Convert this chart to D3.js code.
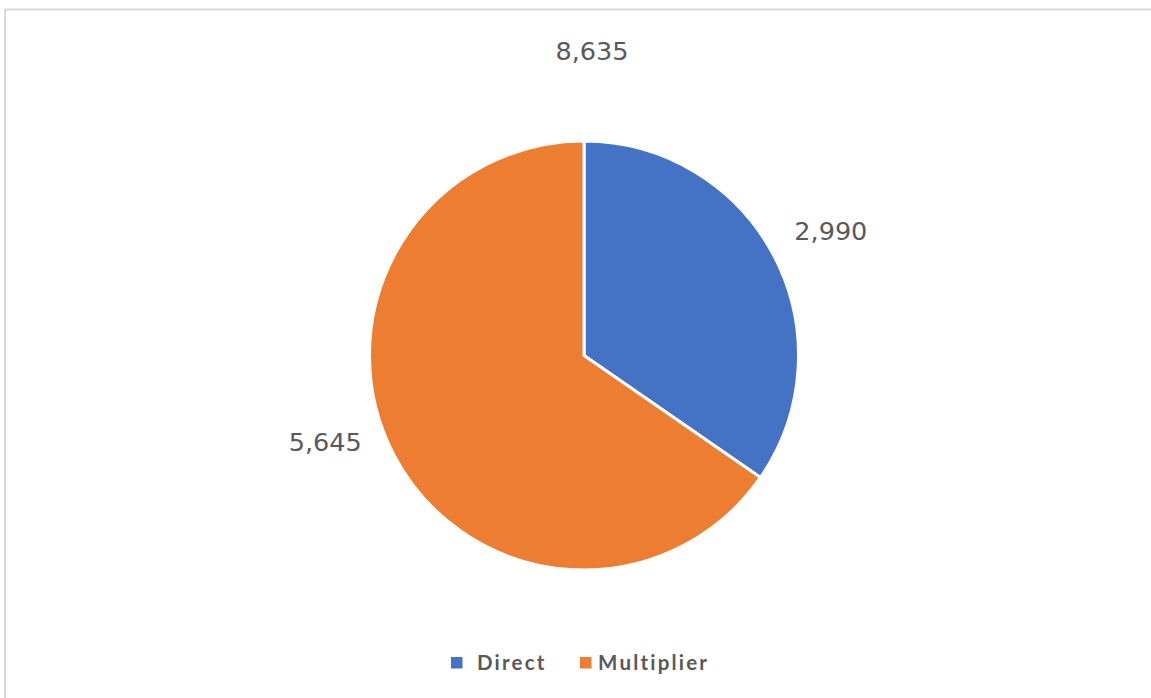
<!DOCTYPE html>
<html>
<head>
<meta charset="utf-8">
<script src="https://cdn.jsdelivr.net/npm/d3@7"></script>
<style>
  html, body { margin: 0; padding: 0; background: #fff; }
  svg { display: block; }
</style>
</head>
<body>
<svg id="chart" width="1151" height="698"></svg>
<script>
// Jobs split between direct and multiplier effects
const categories = ["Direct", "Multiplier"];
const values = [2990, 5645];
const colors = ["#4472C4", "#ED7D31"];

// Label placement: small angular nudges (degrees) so labels sit clear of the pie
const labelNudge = [0.9, 9.1];
const labelR = [276.5, 273];

const W = 1151, H = 698;
const cx = 584, cy = 355.5, radius = 214.5;
const textColor = "#595959";
const fmt = d3.format(",");

const svg = d3.select("#chart");

// Chart frame
svg.append("rect")
  .attr("x", 5).attr("y", 9.5)
  .attr("width", W + 10).attr("height", H + 10)
  .attr("fill", "#fff")
  .attr("stroke", "#d9d9d9")
  .attr("stroke-width", 2);

const total = d3.sum(values);

// Total shown as the title
svg.append("text")
  .attr("x", 592).attr("y", 60)
  .attr("text-anchor", "middle")
  .attr("font-family", "DejaVu Sans, sans-serif")
  .attr("font-size", 25.5)
  .attr("fill", textColor)
  .text(fmt(total));

const pie = d3.pie().sort(null).value(d => d.value);
const arcs = pie(categories.map((c, i) => ({ name: c, value: values[i], color: colors[i], nudge: labelNudge[i] })));

const arc = d3.arc().innerRadius(0).outerRadius(radius);

const g = svg.append("g").attr("transform", `translate(${cx},${cy})`);

g.selectAll("path.slice")
  .data(arcs)
  .join("path")
  .attr("class", "slice")
  .attr("d", arc)
  .attr("fill", d => d.data.color)
  .attr("stroke", "#fff")
  .attr("stroke-width", 3)
  .attr("stroke-linejoin", "round");

// Value labels outside each slice
g.selectAll("text.val")
  .data(arcs)
  .join("text")
  .attr("class", "val")
  .attr("text-anchor", "middle")
  .attr("font-family", "DejaVu Sans, sans-serif")
  .attr("font-size", 25.5)
  .attr("fill", textColor)
  .attr("x", (d, i) => {
    const a = (d.startAngle + d.endAngle) / 2 + d.data.nudge * Math.PI / 180;
    return labelR[i] * Math.sin(a);
  })
  .attr("y", (d, i) => {
    const a = (d.startAngle + d.endAngle) / 2 + d.data.nudge * Math.PI / 180;
    return -labelR[i] * Math.cos(a) + 9;
  })
  .text(d => fmt(d.data.value));

// Legend
const legendItems = [
  { x: 451, tx: 477 },
  { x: 580, tx: 598 }
];
const legend = svg.append("g");
categories.forEach((c, i) => {
  legend.append("rect")
    .attr("x", legendItems[i].x).attr("y", 657)
    .attr("width", 11.5).attr("height", 11.5)
    .attr("fill", colors[i]);
  legend.append("text")
    .attr("x", legendItems[i].tx).attr("y", 669.5)
    .attr("font-family", "Lato, sans-serif")
    .attr("font-size", 20.5)
    .attr("font-weight", 700)
    .attr("letter-spacing", 2.2)
    .attr("fill", textColor)
    .text(c);
});
</script>
</body>
</html>
